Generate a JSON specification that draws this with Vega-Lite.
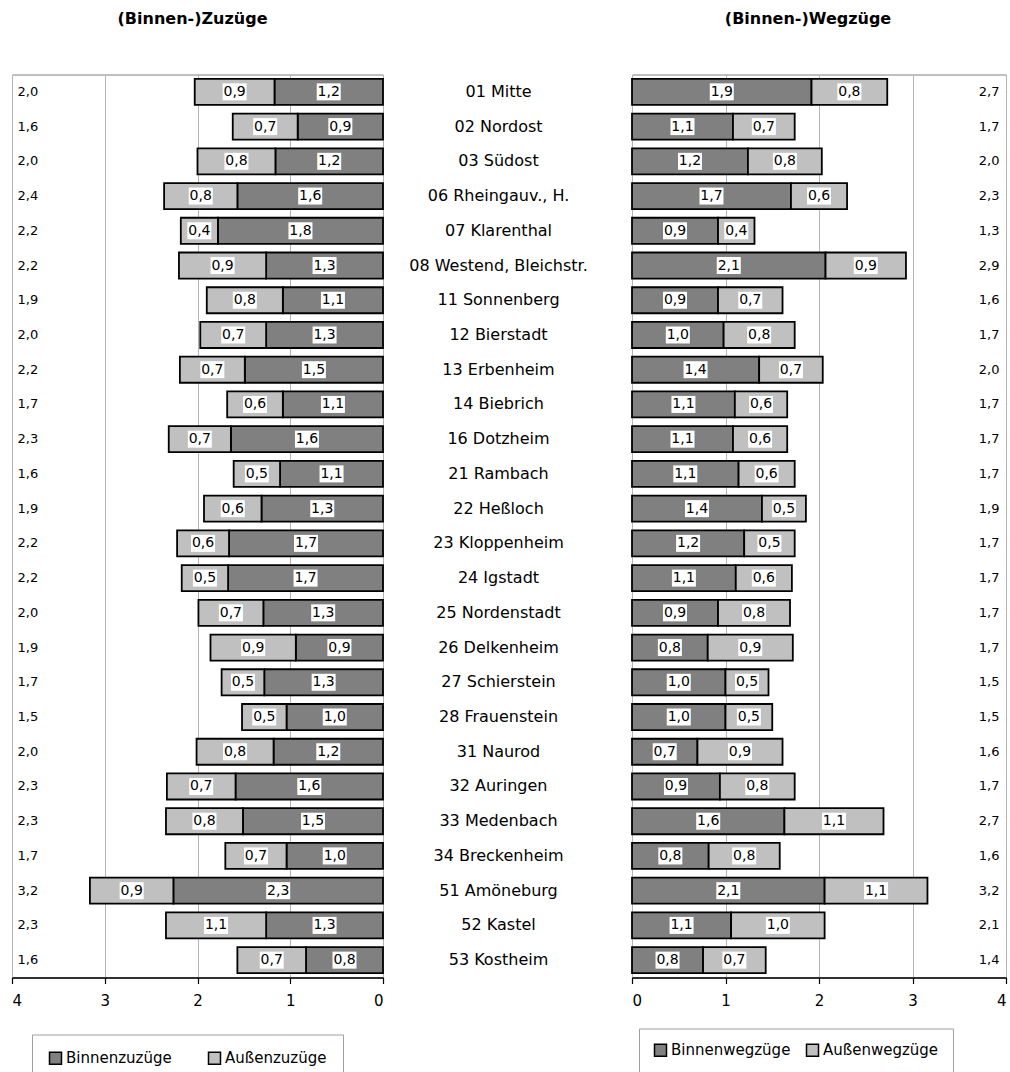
{
  "$schema": "https://vega.github.io/schema/vega-lite/v6.json",
  "padding": {"left": 10, "top": 9.5, "right": 0, "bottom": 0},
  "bounds": "flush",
  "spacing": 0,
  "resolve": {"scale": {"color": "independent", "x": "independent", "y": "independent"}, "legend": {"color": "independent"}},
  "config": {
    "locale": {"number": {"decimal": ",", "thousands": ".", "grouping": [3], "currency": ["", " €"]}},
    "font": "DejaVu Sans",
    "view": {"stroke": "#808080", "strokeWidth": 1},
    "text": {"color": "black"}
  },
  "datasets": {
    "zu": [
      {"d": "01 Mitte", "t": "Binnenzuzüge", "v": 1.17}, {"d": "01 Mitte", "t": "Außenzuzüge", "v": 0.86},
      {"d": "02 Nordost", "t": "Binnenzuzüge", "v": 0.92}, {"d": "02 Nordost", "t": "Außenzuzüge", "v": 0.70},
      {"d": "03 Südost", "t": "Binnenzuzüge", "v": 1.16}, {"d": "03 Südost", "t": "Außenzuzüge", "v": 0.84},
      {"d": "06 Rheingauv., H.", "t": "Binnenzuzüge", "v": 1.57}, {"d": "06 Rheingauv., H.", "t": "Außenzuzüge", "v": 0.79},
      {"d": "07 Klarenthal", "t": "Binnenzuzüge", "v": 1.78}, {"d": "07 Klarenthal", "t": "Außenzuzüge", "v": 0.40},
      {"d": "08 Westend, Bleichstr.", "t": "Binnenzuzüge", "v": 1.26}, {"d": "08 Westend, Bleichstr.", "t": "Außenzuzüge", "v": 0.94},
      {"d": "11 Sonnenberg", "t": "Binnenzuzüge", "v": 1.08}, {"d": "11 Sonnenberg", "t": "Außenzuzüge", "v": 0.82},
      {"d": "12 Bierstadt", "t": "Binnenzuzüge", "v": 1.26}, {"d": "12 Bierstadt", "t": "Außenzuzüge", "v": 0.71},
      {"d": "13 Erbenheim", "t": "Binnenzuzüge", "v": 1.49}, {"d": "13 Erbenheim", "t": "Außenzuzüge", "v": 0.70},
      {"d": "14 Biebrich", "t": "Binnenzuzüge", "v": 1.08}, {"d": "14 Biebrich", "t": "Außenzuzüge", "v": 0.60},
      {"d": "16 Dotzheim", "t": "Binnenzuzüge", "v": 1.64}, {"d": "16 Dotzheim", "t": "Außenzuzüge", "v": 0.67},
      {"d": "21 Rambach", "t": "Binnenzuzüge", "v": 1.11}, {"d": "21 Rambach", "t": "Außenzuzüge", "v": 0.50},
      {"d": "22 Heßloch", "t": "Binnenzuzüge", "v": 1.31}, {"d": "22 Heßloch", "t": "Außenzuzüge", "v": 0.62},
      {"d": "23 Kloppenheim", "t": "Binnenzuzüge", "v": 1.66}, {"d": "23 Kloppenheim", "t": "Außenzuzüge", "v": 0.56},
      {"d": "24 Igstadt", "t": "Binnenzuzüge", "v": 1.67}, {"d": "24 Igstadt", "t": "Außenzuzüge", "v": 0.50},
      {"d": "25 Nordenstadt", "t": "Binnenzuzüge", "v": 1.29}, {"d": "25 Nordenstadt", "t": "Außenzuzüge", "v": 0.70},
      {"d": "26 Delkenheim", "t": "Binnenzuzüge", "v": 0.94}, {"d": "26 Delkenheim", "t": "Außenzuzüge", "v": 0.92},
      {"d": "27 Schierstein", "t": "Binnenzuzüge", "v": 1.28}, {"d": "27 Schierstein", "t": "Außenzuzüge", "v": 0.46},
      {"d": "28 Frauenstein", "t": "Binnenzuzüge", "v": 1.04}, {"d": "28 Frauenstein", "t": "Außenzuzüge", "v": 0.48},
      {"d": "31 Naurod", "t": "Binnenzuzüge", "v": 1.18}, {"d": "31 Naurod", "t": "Außenzuzüge", "v": 0.83},
      {"d": "32 Auringen", "t": "Binnenzuzüge", "v": 1.59}, {"d": "32 Auringen", "t": "Außenzuzüge", "v": 0.74},
      {"d": "33 Medenbach", "t": "Binnenzuzüge", "v": 1.51}, {"d": "33 Medenbach", "t": "Außenzuzüge", "v": 0.83},
      {"d": "34 Breckenheim", "t": "Binnenzuzüge", "v": 1.04}, {"d": "34 Breckenheim", "t": "Außenzuzüge", "v": 0.66},
      {"d": "51 Amöneburg", "t": "Binnenzuzüge", "v": 2.26}, {"d": "51 Amöneburg", "t": "Außenzuzüge", "v": 0.90},
      {"d": "52 Kastel", "t": "Binnenzuzüge", "v": 1.26}, {"d": "52 Kastel", "t": "Außenzuzüge", "v": 1.08},
      {"d": "53 Kostheim", "t": "Binnenzuzüge", "v": 0.83}, {"d": "53 Kostheim", "t": "Außenzuzüge", "v": 0.74}
    ],
    "weg": [
      {"d": "01 Mitte", "t": "Binnenwegzüge", "v": 1.92}, {"d": "01 Mitte", "t": "Außenwegzüge", "v": 0.81},
      {"d": "02 Nordost", "t": "Binnenwegzüge", "v": 1.08}, {"d": "02 Nordost", "t": "Außenwegzüge", "v": 0.66},
      {"d": "03 Südost", "t": "Binnenwegzüge", "v": 1.24}, {"d": "03 Südost", "t": "Außenwegzüge", "v": 0.79},
      {"d": "06 Rheingauv., H.", "t": "Binnenwegzüge", "v": 1.70}, {"d": "06 Rheingauv., H.", "t": "Außenwegzüge", "v": 0.60},
      {"d": "07 Klarenthal", "t": "Binnenwegzüge", "v": 0.92}, {"d": "07 Klarenthal", "t": "Außenwegzüge", "v": 0.39},
      {"d": "08 Westend, Bleichstr.", "t": "Binnenwegzüge", "v": 2.07}, {"d": "08 Westend, Bleichstr.", "t": "Außenwegzüge", "v": 0.86},
      {"d": "11 Sonnenberg", "t": "Binnenwegzüge", "v": 0.92}, {"d": "11 Sonnenberg", "t": "Außenwegzüge", "v": 0.69},
      {"d": "12 Bierstadt", "t": "Binnenwegzüge", "v": 0.98}, {"d": "12 Bierstadt", "t": "Außenwegzüge", "v": 0.76},
      {"d": "13 Erbenheim", "t": "Binnenwegzüge", "v": 1.36}, {"d": "13 Erbenheim", "t": "Außenwegzüge", "v": 0.68},
      {"d": "14 Biebrich", "t": "Binnenwegzüge", "v": 1.10}, {"d": "14 Biebrich", "t": "Außenwegzüge", "v": 0.56},
      {"d": "16 Dotzheim", "t": "Binnenwegzüge", "v": 1.08}, {"d": "16 Dotzheim", "t": "Außenwegzüge", "v": 0.58},
      {"d": "21 Rambach", "t": "Binnenwegzüge", "v": 1.14}, {"d": "21 Rambach", "t": "Außenwegzüge", "v": 0.60},
      {"d": "22 Heßloch", "t": "Binnenwegzüge", "v": 1.39}, {"d": "22 Heßloch", "t": "Außenwegzüge", "v": 0.47},
      {"d": "23 Kloppenheim", "t": "Binnenwegzüge", "v": 1.20}, {"d": "23 Kloppenheim", "t": "Außenwegzüge", "v": 0.54},
      {"d": "24 Igstadt", "t": "Binnenwegzüge", "v": 1.11}, {"d": "24 Igstadt", "t": "Außenwegzüge", "v": 0.60},
      {"d": "25 Nordenstadt", "t": "Binnenwegzüge", "v": 0.92}, {"d": "25 Nordenstadt", "t": "Außenwegzüge", "v": 0.77},
      {"d": "26 Delkenheim", "t": "Binnenwegzüge", "v": 0.81}, {"d": "26 Delkenheim", "t": "Außenwegzüge", "v": 0.91},
      {"d": "27 Schierstein", "t": "Binnenwegzüge", "v": 1.00}, {"d": "27 Schierstein", "t": "Außenwegzüge", "v": 0.46},
      {"d": "28 Frauenstein", "t": "Binnenwegzüge", "v": 1.00}, {"d": "28 Frauenstein", "t": "Außenwegzüge", "v": 0.50},
      {"d": "31 Naurod", "t": "Binnenwegzüge", "v": 0.70}, {"d": "31 Naurod", "t": "Außenwegzüge", "v": 0.91},
      {"d": "32 Auringen", "t": "Binnenwegzüge", "v": 0.94}, {"d": "32 Auringen", "t": "Außenwegzüge", "v": 0.80},
      {"d": "33 Medenbach", "t": "Binnenwegzüge", "v": 1.63}, {"d": "33 Medenbach", "t": "Außenwegzüge", "v": 1.06},
      {"d": "34 Breckenheim", "t": "Binnenwegzüge", "v": 0.82}, {"d": "34 Breckenheim", "t": "Außenwegzüge", "v": 0.76},
      {"d": "51 Amöneburg", "t": "Binnenwegzüge", "v": 2.06}, {"d": "51 Amöneburg", "t": "Außenwegzüge", "v": 1.10},
      {"d": "52 Kastel", "t": "Binnenwegzüge", "v": 1.06}, {"d": "52 Kastel", "t": "Außenwegzüge", "v": 1.00},
      {"d": "53 Kostheim", "t": "Binnenwegzüge", "v": 0.76}, {"d": "53 Kostheim", "t": "Außenwegzüge", "v": 0.67}
    ]
  },
  "hconcat": [
    {
      "width": 371,
      "height": 903,
      "data": {"name": "zu"},
      "title": {"text": "(Binnen-)Zuzüge", "fontSize": 16, "fontWeight": "bold", "font": "DejaVu Sans", "offset": 48, "dx": -5, "color": "black"},
      "transform": [
        {"stack": "v", "groupby": ["d"], "sort": [{"field": "t", "order": "descending"}], "as": ["v0", "v1"]},
        {"calculate": "(datum.v0 + datum.v1) / 2", "as": "vm"}
      ],
      "encoding": {
        "y": {"field": "d", "type": "nominal", "axis": null,
          "scale": {"domain": ["01 Mitte", "02 Nordost", "03 Südost", "06 Rheingauv., H.", "07 Klarenthal", "08 Westend, Bleichstr.", "11 Sonnenberg", "12 Bierstadt", "13 Erbenheim", "14 Biebrich", "16 Dotzheim", "21 Rambach", "22 Heßloch", "23 Kloppenheim", "24 Igstadt", "25 Nordenstadt", "26 Delkenheim", "27 Schierstein", "28 Frauenstein", "31 Naurod", "32 Auringen", "33 Medenbach", "34 Breckenheim", "51 Amöneburg", "52 Kastel", "53 Kostheim"], "paddingInner": 0.25, "paddingOuter": 0.125}}
      },
      "layer": [
        {
          "mark": {"type": "bar", "stroke": "black", "strokeWidth": 1.8},
          "encoding": {
            "x": {"field": "v0", "type": "quantitative", "scale": {"domain": [0, 4], "reverse": true, "nice": false},
              "axis": {"values": [0, 1, 2, 3, 4], "format": "d", "title": null, "grid": true, "gridColor": "#B4B4B4", "gridWidth": 1, "domainColor": "black", "domainWidth": 1.5, "tickColor": "black", "tickSize": 6, "tickWidth": 1.2, "labelFontSize": 15, "labelColor": "black", "labelPadding": 10, "labelFont": "DejaVu Sans"}},
            "x2": {"field": "v1"},
            "color": {"field": "t", "type": "nominal",
              "scale": {"domain": ["Binnenzuzüge", "Außenzuzüge"], "range": ["#808080", "#C0C0C0"]},
              "legend": {"title": null, "orient": "none", "legendX": 20, "legendY": 960, "direction": "horizontal", "symbolType": "square", "symbolSize": 144, "symbolStrokeColor": "black", "symbolStrokeWidth": 1.5, "labelFontSize": 15, "labelColor": "black", "labelFont": "DejaVu Sans", "labelOffset": 3, "columnPadding": 33, "padding": 16, "strokeColor": "#A0A0A0", "fillColor": "white"}}
          }
        },
        {
          "mark": {"type": "point", "shape": "M-1.2,-0.85L1.2,-0.85L1.2,0.85L-1.2,0.85Z", "size": 400, "filled": true, "fill": "white", "strokeWidth": 0, "opacity": 1},
          "encoding": {"x": {"field": "vm", "type": "quantitative"}}
        },
        {
          "mark": {"type": "text", "fontSize": 14, "baseline": "middle"},
          "encoding": {"x": {"field": "vm", "type": "quantitative"}, "text": {"field": "v", "type": "quantitative", "format": ".1f"}}
        },
        {
          "transform": [{"aggregate": [{"op": "sum", "field": "v", "as": "tot"}], "groupby": ["d"]}],
          "mark": {"type": "text", "align": "left", "fontSize": 13, "baseline": "middle"},
          "encoding": {"x": {"datum": 3.94, "type": "quantitative"}, "text": {"field": "tot", "type": "quantitative", "format": ".1f"}}
        }
      ]
    },
    {
      "width": 249,
      "height": 903,
      "view": {"stroke": null},
      "data": {"name": "zu"},
      "transform": [{"filter": "datum.t === 'Binnenzuzüge'"}],
      "mark": {"type": "text", "fontSize": 16, "dx": -9, "baseline": "middle"},
      "encoding": {
        "y": {"field": "d", "type": "nominal", "axis": null,
          "scale": {"domain": ["01 Mitte", "02 Nordost", "03 Südost", "06 Rheingauv., H.", "07 Klarenthal", "08 Westend, Bleichstr.", "11 Sonnenberg", "12 Bierstadt", "13 Erbenheim", "14 Biebrich", "16 Dotzheim", "21 Rambach", "22 Heßloch", "23 Kloppenheim", "24 Igstadt", "25 Nordenstadt", "26 Delkenheim", "27 Schierstein", "28 Frauenstein", "31 Naurod", "32 Auringen", "33 Medenbach", "34 Breckenheim", "51 Amöneburg", "52 Kastel", "53 Kostheim"], "paddingInner": 0.25, "paddingOuter": 0.125}},
        "text": {"field": "d", "type": "nominal"}
      }
    },
    {
      "width": 374,
      "height": 903,
      "data": {"name": "weg"},
      "title": {"text": "(Binnen-)Wegzüge", "fontSize": 16, "fontWeight": "bold", "font": "DejaVu Sans", "offset": 48, "dx": -11, "color": "black"},
      "transform": [
        {"stack": "v", "groupby": ["d"], "sort": [{"field": "t", "order": "descending"}], "as": ["v0", "v1"]},
        {"calculate": "(datum.v0 + datum.v1) / 2", "as": "vm"}
      ],
      "encoding": {
        "y": {"field": "d", "type": "nominal", "axis": null,
          "scale": {"domain": ["01 Mitte", "02 Nordost", "03 Südost", "06 Rheingauv., H.", "07 Klarenthal", "08 Westend, Bleichstr.", "11 Sonnenberg", "12 Bierstadt", "13 Erbenheim", "14 Biebrich", "16 Dotzheim", "21 Rambach", "22 Heßloch", "23 Kloppenheim", "24 Igstadt", "25 Nordenstadt", "26 Delkenheim", "27 Schierstein", "28 Frauenstein", "31 Naurod", "32 Auringen", "33 Medenbach", "34 Breckenheim", "51 Amöneburg", "52 Kastel", "53 Kostheim"], "paddingInner": 0.25, "paddingOuter": 0.125}}
      },
      "layer": [
        {
          "mark": {"type": "bar", "stroke": "black", "strokeWidth": 1.8},
          "encoding": {
            "x": {"field": "v0", "type": "quantitative", "scale": {"domain": [0, 4], "nice": false},
              "axis": {"values": [0, 1, 2, 3, 4], "format": "d", "title": null, "grid": true, "gridColor": "#B4B4B4", "gridWidth": 1, "domainColor": "black", "domainWidth": 1.5, "tickColor": "black", "tickSize": 6, "tickWidth": 1.2, "labelFontSize": 15, "labelColor": "black", "labelPadding": 10, "labelFont": "DejaVu Sans"}},
            "x2": {"field": "v1"},
            "color": {"field": "t", "type": "nominal",
              "scale": {"domain": ["Binnenwegzüge", "Außenwegzüge"], "range": ["#808080", "#C0C0C0"]},
              "legend": {"title": null, "orient": "none", "legendX": 7, "legendY": 954, "direction": "horizontal", "symbolType": "square", "symbolSize": 144, "symbolStrokeColor": "black", "symbolStrokeWidth": 1.5, "labelFontSize": 15, "labelColor": "black", "labelFont": "DejaVu Sans", "labelOffset": 3, "columnPadding": 12, "padding": 14, "strokeColor": "#A0A0A0", "fillColor": "white"}}
          }
        },
        {
          "mark": {"type": "point", "shape": "M-1.2,-0.85L1.2,-0.85L1.2,0.85L-1.2,0.85Z", "size": 400, "filled": true, "fill": "white", "strokeWidth": 0, "opacity": 1},
          "encoding": {"x": {"field": "vm", "type": "quantitative"}}
        },
        {
          "mark": {"type": "text", "fontSize": 14, "baseline": "middle"},
          "encoding": {"x": {"field": "vm", "type": "quantitative"}, "text": {"field": "v", "type": "quantitative", "format": ".1f"}}
        },
        {
          "transform": [{"aggregate": [{"op": "sum", "field": "v", "as": "tot"}], "groupby": ["d"]}],
          "mark": {"type": "text", "align": "right", "fontSize": 13, "baseline": "middle"},
          "encoding": {"x": {"datum": 3.93, "type": "quantitative"}, "text": {"field": "tot", "type": "quantitative", "format": ".1f"}}
        }
      ]
    }
  ]
}
